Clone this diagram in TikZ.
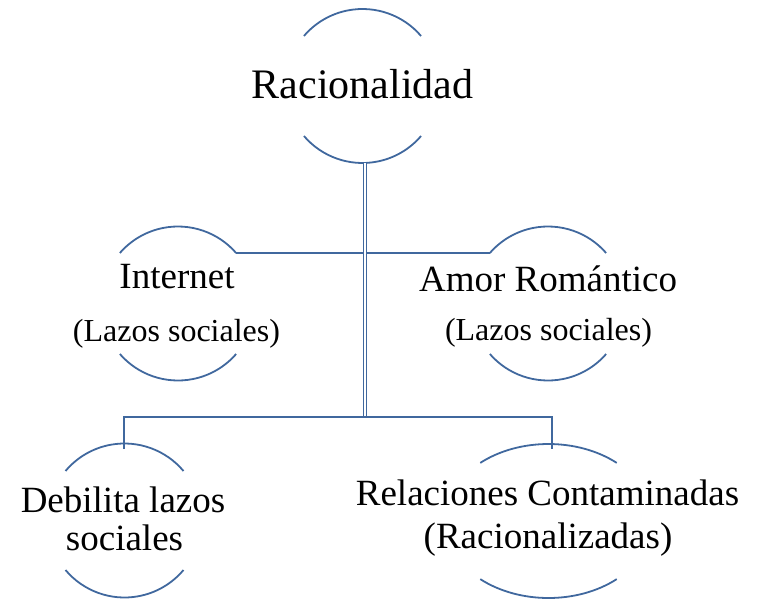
\documentclass[tikz,border=0pt]{standalone}
\usepackage{fontspec}
\setmainfont{Liberation Serif}
\usetikzlibrary{calc}
\definecolor{ln}{RGB}{64,104,158}
\begin{document}
\begin{tikzpicture}[x=1pt,y=1pt,
  arcl/.style={draw=ln,line width=1.8pt},
  conn/.style={draw=ln,line width=1.9pt},
  dbl/.style={draw=ln,line width=1.5pt,double=white,double distance=1.5pt},
  txt/.style={inner sep=0pt,anchor=base,text=black}]
\useasboundingbox (0,0) rectangle (759,-602);
% centres of the arc shapes
\coordinate (cR) at (362.5,-86);
\coordinate (cI) at (178,-303.5);
\coordinate (cA) at (548,-303.5);
\coordinate (cD) at (124.5,-520.5);
\coordinate (cC) at (548.5,-521);
% arcs
\draw[arcl] (cR) ++(40.5:77) arc[start angle=40.5,end angle=139.5,radius=77];
\draw[arcl] (cR) ++(220.5:77) arc[start angle=220.5,end angle=319.5,radius=77];
\draw[arcl] (cI) ++(41:77) arc[start angle=41,end angle=139,radius=77];
\draw[arcl] (cI) ++(221:77) arc[start angle=221,end angle=319,radius=77];
\draw[arcl] (cA) ++(41:77) arc[start angle=41,end angle=139,radius=77];
\draw[arcl] (cA) ++(221:77) arc[start angle=221,end angle=319,radius=77];
\draw[arcl] (cD) ++(40:77) arc[start angle=40,end angle=140,radius=77];
\draw[arcl] (cD) ++(220:77) arc[start angle=220,end angle=320,radius=77];
\draw[arcl] (cC) ++(49:104 and 77) arc[start angle=49,end angle=131,x radius=104,y radius=77];
\draw[arcl] (cC) ++(229:104 and 77) arc[start angle=229,end angle=311,x radius=104,y radius=77];
% connector points
\path (cI) ++(41:77) coordinate (iTR);
\path (cA) ++(139:77) coordinate (aTL);
\coordinate (rB) at (365,-163);
\coordinate (vB) at (365,-417);
\coordinate (bL) at (124,-417);
\coordinate (bR) at (552,-417);
\coordinate (dT) at (124,-449);
\coordinate (cT) at (552,-449);
% texts
\node[txt,font=\fontsize{42}{50}\selectfont] (rac) at (362.5,-98) {Racionalidad};
\node[txt,font=\fontsize{37}{44}\selectfont] (int) at (177,-288) {Internet};
\node[txt,font=\fontsize{32}{38}\selectfont] (intl) at (176.5,-341) {(Lazos sociales)};
\node[txt,font=\fontsize{37}{44}\selectfont] (amor) at (548,-291) {Amor Romántico};
\node[txt,font=\fontsize{32}{38}\selectfont] (amorl) at (548.5,-340) {(Lazos sociales)};
\node[txt,font=\fontsize{37}{44}\selectfont] (deb) at (123,-512) {Debilita lazos};
\node[txt,font=\fontsize{37}{44}\selectfont] (debl) at (124.5,-550) {sociales};
\node[txt,font=\fontsize{37}{44}\selectfont] (rel) at (547.5,-505) {Relaciones Contaminadas};
\node[txt,font=\fontsize{37}{44}\selectfont] (rell) at (548,-548) {(Racionalizadas)};
% connectors
\draw[conn] (iTR) -- (aTL);
\draw[dbl] (rB) -- (vB);
\draw[conn] (dT) -- (bL) -- (bR) -- (cT);
\end{tikzpicture}
\end{document}
